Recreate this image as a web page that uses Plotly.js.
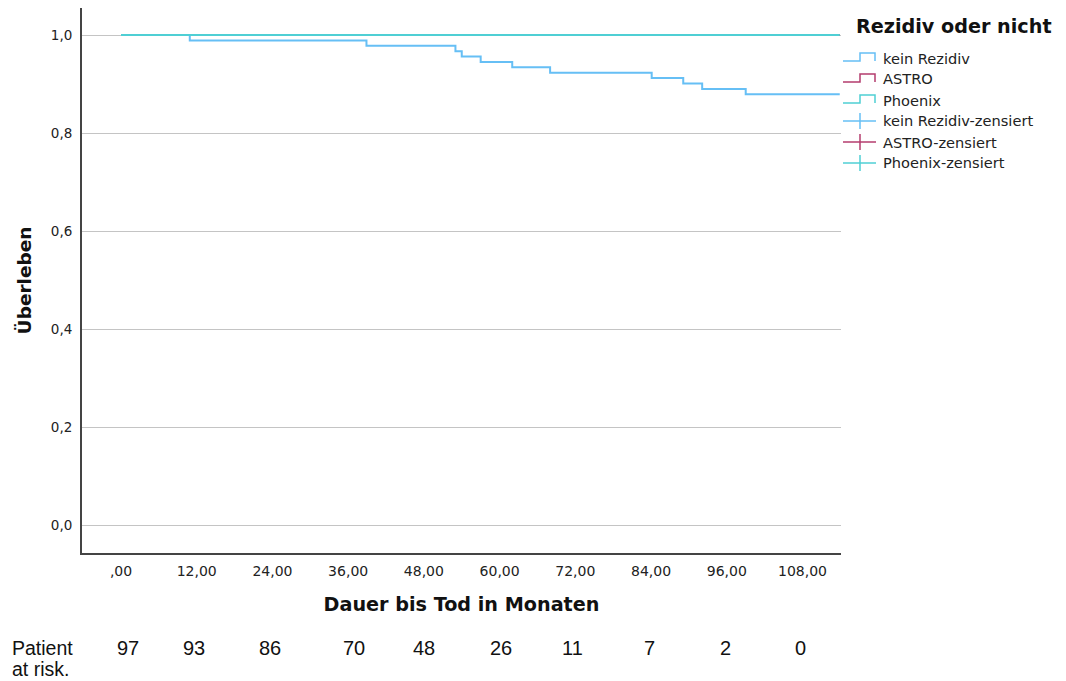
<!DOCTYPE html>
<html>
<head>
<meta charset="utf-8">
<script src="https://cdn.plot.ly/plotly-3.0.1.min.js"></script>
<style>html,body{margin:0;padding:0;background:#fff;}#chart{width:1066px;height:681px;}</style>
</head>
<body>
<div id="chart"></div>
<script>
// ---- data ----
const tickMonths = [0, 12, 24, 36, 48, 60, 72, 84, 96, 108];
const atRisk = [97, 93, 86, 70, 48, 26, 11, 7, 2, 0];
const yTicks = [0, 0.2, 0.4, 0.6, 0.8, 1.0];

const timeKeinRezidiv = [0, 10.9, 38.9, 53.0, 54.0, 57.0, 62.0, 68.0, 84.1, 89.1, 92.1, 99.0, 113.9];
const survKeinRezidiv = [1, 0.989, 0.978, 0.967, 0.956, 0.945, 0.934, 0.923, 0.912, 0.901, 0.890, 0.879, 0.879];
const timeAstro = [0, 113.9];
const survAstro = [1, 1];
const timePhoenix = [0, 113.9];
const survPhoenix = [1, 1];

const legendTitle = 'Rezidiv oder nicht';
const legendLabels = ['kein Rezidiv', 'ASTRO', 'Phoenix', 'kein Rezidiv-zensiert', 'ASTRO-zensiert', 'Phoenix-zensiert'];

// ---- style ----
const cKein = '#66bff5', cAstro = '#b43c6e', cPhoenix = '#4fcfd4';
const legendColors = [cKein, cAstro, cPhoenix, cKein, cAstro, cPhoenix];
const atRiskXShift = [7, -3, -2, 6, 0, 1, -3, -2, -1, -2]; // pixel nudges of the typed at-risk row
const W = 1066, H = 681, ML = 82, MR = 225, MT = 8, MB = 128;
const PW = W - ML - MR, PH = H - MT - MB;
const px2x = p => (p - ML) / PW;
const py2y = p => (H - MB - p) / PH;
const fmtX = v => v === 0 ? ',00' : v.toFixed(2).replace('.', ',');
const fmtY = v => v.toFixed(1).replace('.', ',');

const traces = [
  {x: timeKeinRezidiv, y: survKeinRezidiv, mode: 'lines', line: {shape: 'hv', color: cKein, width: 2}, name: legendLabels[0], showlegend: false, hoverinfo: 'skip'},
  {x: timeAstro, y: survAstro, mode: 'lines', line: {shape: 'hv', color: cAstro, width: 2}, name: legendLabels[1], showlegend: false, hoverinfo: 'skip'},
  {x: timePhoenix, y: survPhoenix, mode: 'lines', line: {shape: 'hv', color: cPhoenix, width: 2}, name: legendLabels[2], showlegend: false, hoverinfo: 'skip'}
];

const shapes = [];
const annotations = [];
const legendYs = [58, 79, 100, 121, 142, 163];
legendLabels.forEach((lab, i) => {
  const c = legendYs[i];
  const col = legendColors[i];
  if (i < 3) {
    const path = `M ${px2x(843)},${py2y(c + 3)} L ${px2x(860)},${py2y(c + 3)} L ${px2x(860)},${py2y(c - 5)} L ${px2x(875)},${py2y(c - 5)} L ${px2x(875)},${py2y(c + 3)}`;
    shapes.push({type: 'path', xref: 'paper', yref: 'paper', path: path, line: {color: col, width: 1.5}});
  } else {
    shapes.push({type: 'line', xref: 'paper', yref: 'paper', x0: px2x(843), x1: px2x(876), y0: py2y(c), y1: py2y(c), line: {color: col, width: 1.5}});
    shapes.push({type: 'line', xref: 'paper', yref: 'paper', x0: px2x(860), x1: px2x(860), y0: py2y(c - 8), y1: py2y(c + 8), line: {color: col, width: 1.5}});
  }
  annotations.push({xref: 'paper', yref: 'paper', x: px2x(881), y: py2y(c), xanchor: 'left', yanchor: 'middle', showarrow: false, text: lab, font: {family: 'DejaVu Sans', size: 14.6, color: '#222'}});
});
annotations.push({xref: 'paper', yref: 'paper', x: px2x(854), y: py2y(27), xanchor: 'left', yanchor: 'middle', showarrow: false, text: '<b>' + legendTitle + '</b>', font: {family: 'DejaVu Sans', size: 19.2, color: '#111'}});

// at-risk row
tickMonths.forEach((m, i) => {
  annotations.push({xref: 'x', yref: 'paper', x: m, xshift: atRiskXShift[i], y: py2y(648), xanchor: 'center', yanchor: 'middle', showarrow: false, text: String(atRisk[i]), font: {family: 'Liberation Sans, Arial', size: 20, color: '#111'}});
});
annotations.push({xref: 'paper', yref: 'paper', x: px2x(10), y: py2y(648), xanchor: 'left', yanchor: 'middle', showarrow: false, text: 'Patient', font: {family: 'Liberation Sans, Arial', size: 19.5, color: '#111'}});
annotations.push({xref: 'paper', yref: 'paper', x: px2x(10), y: py2y(669), xanchor: 'left', yanchor: 'middle', showarrow: false, text: 'at risk.', font: {family: 'Liberation Sans, Arial', size: 19.5, color: '#111'}});

const layout = {
  width: W, height: H,
  margin: {l: ML, r: MR, t: MT, b: MB, pad: 0},
  paper_bgcolor: '#fff', plot_bgcolor: '#fff',
  showlegend: false,
  xaxis: {
    range: [-6.18, 114.1], showgrid: false, zeroline: false,
    showline: true, linecolor: '#444', linewidth: 2,
    ticks: '', tickvals: tickMonths, ticktext: tickMonths.map(fmtX),
    ticklabelstandoff: 4,
    tickfont: {family: 'DejaVu Sans', size: 14, color: '#222'},
    title: {text: '<b>Dauer bis Tod in Monaten</b>', font: {family: 'DejaVu Sans', size: 19.2, color: '#111'}, standoff: 20}
  },
  yaxis: {
    range: [-0.0571, 1.0551], showgrid: true, gridcolor: '#c4c4c4', gridwidth: 1, zeroline: false,
    showline: true, linecolor: '#444', linewidth: 2,
    ticks: '', tickvals: yTicks, ticktext: yTicks.map(fmtY),
    ticklabelstandoff: 5,
    tickfont: {family: 'DejaVu Sans', size: 13.5, color: '#222'},
    title: {text: '<b>Überleben</b>', font: {family: 'DejaVu Sans', size: 18.5, color: '#111'}, standoff: 14}
  },
  shapes: shapes,
  annotations: annotations
};

Plotly.newPlot('chart', traces, layout, {displayModeBar: false, staticPlot: true});
</script>
</body>
</html>
